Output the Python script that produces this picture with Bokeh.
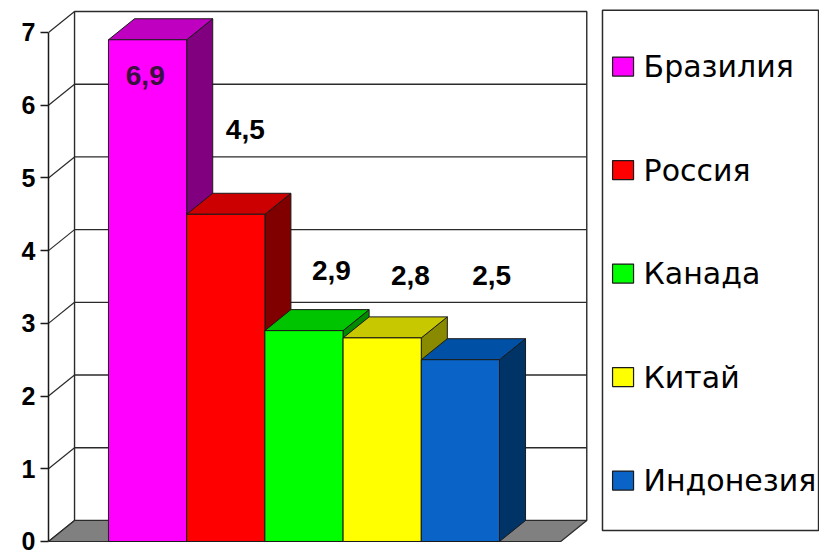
from bokeh.plotting import figure
from bokeh.models import Range1d, FixedTicker, ColumnDataSource
from bokeh.core.properties import value
from bokeh.embed import file_html
from bokeh.resources import INLINE

# ---- data ----
categories = ["Бразилия", "Россия", "Канада", "Китай", "Индонезия"]
values = [6.9, 4.5, 2.9, 2.8, 2.5]
value_labels = ["6,9", "4,5", "2,9", "2,8", "2,5"]
y_ticks = [0, 1, 2, 3, 4, 5, 6, 7]

# ---- styles ----
front_colors = ["#ff00ff", "#ff0000", "#00ff00", "#ffff00", "#0a64c8"]
top_colors = ["#c000c0", "#cc0000", "#00c400", "#c8c800", "#0050a5"]
side_colors = ["#800080", "#800000", "#008a00", "#8a8a00", "#003366"]
label_colors = ["#3a103e", "black", "black", "black", "black"]

# ---- layout (3D geometry in data units) ----
BAR_START = 0.767
BAR_W = 1.0
DX = 0.333
DY = 0.289
FLOOR_END = 6.55
Y_MAX = 7
LABEL_DX = [-0.03, 0.25, 0.35, 0.36, 0.40]
LABEL_DY = [-0.49, 1.17, 0.83, 0.86, 1.16]

p = figure(width=819, height=550,
           x_range=Range1d(0, 9.859), y_range=Range1d(-0.1238, 7.440),
           min_border_left=48, min_border_right=0, min_border_top=0, min_border_bottom=0,
           x_axis_location=None, toolbar_location=None, output_backend="svg")
p.outline_line_color = None
p.grid.visible = False
p.background_fill_color = "white"
p.border_fill_color = "white"

# back wall
p.quad(left=DX, right=FLOOR_END + DX, bottom=DY, top=Y_MAX + DY,
       fill_color="white", line_color="#2a2a2a", line_width=1.4)
# back wall grid lines
inner = [t for t in y_ticks if 0 < t < Y_MAX]
p.segment(x0=[DX] * len(inner), y0=[t + DY for t in inner],
          x1=[FLOOR_END + DX] * len(inner), y1=[t + DY for t in inner],
          line_color="#2a2a2a", line_width=1.4)
# left wall perspective lines
p.segment(x0=[0] * len(y_ticks), y0=y_ticks,
          x1=[DX] * len(y_ticks), y1=[t + DY for t in y_ticks],
          line_color="#2a2a2a", line_width=1.2)
# floor
p.patch(x=[0, FLOOR_END, FLOOR_END + DX, DX], y=[0, 0, DY, DY],
        fill_color="#808080", line_color="#2a2a2a", line_width=1.2)

# bars (side, top, front for each bar, in order)
xs, ys, fills = [], [], []
for i, v in enumerate(values):
    x0 = BAR_START + i * BAR_W
    x1 = x0 + BAR_W
    xs.append([x1, x1 + DX, x1 + DX, x1]); ys.append([0, DY, v + DY, v]); fills.append(side_colors[i])
    xs.append([x0, x0 + DX, x1 + DX, x1]); ys.append([v, v + DY, v + DY, v]); fills.append(top_colors[i])
    xs.append([x0, x1, x1, x0]); ys.append([0, 0, v, v]); fills.append(front_colors[i])
p.patches(xs="xs", ys="ys", fill_color="fill", line_color="#1a1a1a", line_width=1,
          source=ColumnDataSource(dict(xs=xs, ys=ys, fill=fills)))

# value labels
p.text(x=[BAR_START + i + BAR_W / 2 + LABEL_DX[i] for i in range(len(values))],
       y=[v + LABEL_DY[i] for i, v in enumerate(values)],
       text=value_labels, text_color=label_colors,
       text_font=value("Liberation Sans"), text_font_style="bold", text_font_size="28px",
       text_align="center", text_baseline="middle")

# legend box
p.quad(left=7.084, right=9.847, bottom=0.151, top=7.305,
       fill_color="white", line_color="#2a2a2a", line_width=1.5)
leg_pitch = 1.4234
leg_y = [6.532 - i * leg_pitch for i in range(len(categories))]
p.rect(x=[7.347] * len(categories), y=leg_y, width=21, height=19,
       width_units="screen", height_units="screen",
       fill_color=front_colors, line_color="#1a1a1a", line_width=1.2)
p.text(x=[7.609] * len(categories), y=leg_y, text=categories,
       text_font=value("DejaVu Sans"), text_font_size="30px",
       text_align="left", text_baseline="middle", text_color="black")

# y axis
ax = p.yaxis[0]
ax.ticker = FixedTicker(ticks=y_ticks)
ax.bounds = (0, Y_MAX)
ax.axis_line_color = "#1a1a1a"
ax.axis_line_width = 1.5
ax.major_tick_line_color = "#1a1a1a"
ax.major_tick_line_width = 1.5
ax.major_tick_out = 8
ax.major_tick_in = 0
ax.minor_tick_out = 0
ax.minor_tick_in = 0
ax.major_label_standoff = 5
ax.major_label_text_font = "Liberation Sans"
ax.major_label_text_font_style = "bold"
ax.major_label_text_font_size = "25px"
ax.major_label_text_color = "black"

open("out.html", "w").write(file_html(p, INLINE))
